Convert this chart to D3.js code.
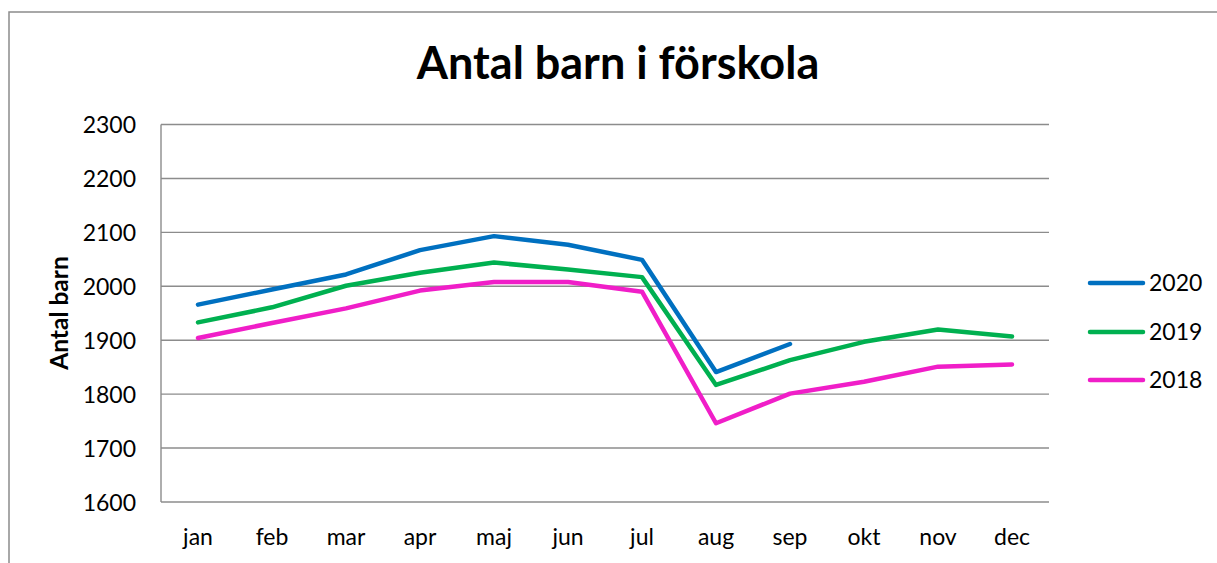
<!DOCTYPE html>
<html>
<head>
<meta charset="utf-8">
<script src="https://cdn.jsdelivr.net/npm/d3@7"></script>
<style>
html,body{margin:0;padding:0;background:#fff;}
svg{display:block;}
</style>
</head>
<body>
<svg id="chart" width="1217" height="563"></svg>
<script>
const months = ["jan","feb","mar","apr","maj","jun","jul","aug","sep","okt","nov","dec"];
const yTicks = [1600,1700,1800,1900,2000,2100,2200,2300];
const values2020 = [1966,1994,2022,2067,2093,2077,2049,1841,1893];
const values2019 = [1933,1961,2001,2025,2044,2031,2017,1817,1863,1897,1920,1907];
const values2018 = [1904,1932,1959,1992,2008,2008,1990,1746,1801,1823,1851,1855];
const seriesNames = ["2020","2019","2018"];
const seriesColors = ["#0070C0","#00B050","#F01EC8"];

const series = [
  {name: seriesNames[0], values: values2020, color: seriesColors[0]},
  {name: seriesNames[1], values: values2019, color: seriesColors[1]},
  {name: seriesNames[2], values: values2018, color: seriesColors[2]}
];

const svg = d3.select("#chart");
const font = "Lato, 'Open Sans', sans-serif";
const plot = {left:161, right:1049, top:124.5, bottom:502};

// outer border
svg.append("rect").attr("x",9).attr("y",12).attr("width",1230).attr("height",600)
  .attr("fill","#fff").attr("stroke","#8c8c8c").attr("stroke-width",1.5);

const x = d3.scaleBand().domain(months).range([plot.left, plot.right]).padding(0);
const y = d3.scaleLinear().domain([1600,2300]).range([plot.bottom, plot.top]);

// gridlines
svg.append("g").selectAll("line").data(yTicks).join("line")
  .attr("x1",plot.left).attr("x2",plot.right)
  .attr("y1",d=>y(d)).attr("y2",d=>y(d))
  .attr("stroke","#8c8c8c").attr("stroke-width",1.4);

// y axis line
svg.append("line").attr("x1",plot.left).attr("x2",plot.left)
  .attr("y1",plot.top).attr("y2",plot.bottom)
  .attr("stroke","#8c8c8c").attr("stroke-width",1.4);

// y tick labels
const yAxis = d3.axisLeft(y).tickValues(yTicks).tickSize(0).tickPadding(0).tickFormat(d3.format("d"));
const gy = svg.append("g").attr("transform",`translate(136,0)`).call(yAxis);
gy.select(".domain").remove();
gy.selectAll("text").attr("font-family",font).attr("font-size",23).attr("fill","#000").attr("dy","0.36em");

// x tick labels
const xAxis = d3.axisBottom(x).tickSize(0).tickPadding(0);
const gx = svg.append("g").attr("transform",`translate(0,${plot.bottom})`).call(xAxis);
gx.select(".domain").remove();
gx.selectAll("text").attr("font-family",font).attr("font-size",23).attr("fill","#000").attr("y",43).attr("dy",0);

// lines
const line = d3.line().x((d,i)=>x(months[i]) + x.bandwidth()/2).y(d=>y(d));
svg.append("g").selectAll("path").data(series).join("path")
  .attr("d",d=>line(d.values))
  .attr("fill","none").attr("stroke",d=>d.color).attr("stroke-width",4.5)
  .attr("stroke-linejoin","round").attr("stroke-linecap","round");

// title
svg.append("text").attr("x",618).attr("y",79).attr("text-anchor","middle")
  .attr("font-family",font).attr("font-weight","bold").attr("font-size",45)
  .attr("fill","#000").text("Antal barn i förskola");

// y axis title
svg.append("text").attr("transform","translate(68,313) rotate(-90)")
  .attr("text-anchor","middle").attr("font-family",font).attr("font-weight","bold")
  .attr("font-size",24.5).attr("fill","#000").text("Antal barn");

// legend
const legendY = [283,332,380];
const lg = svg.append("g").selectAll("g").data(series).join("g")
  .attr("transform",(d,i)=>`translate(0,${legendY[i]})`);
lg.append("line").attr("x1",1090).attr("x2",1143).attr("y1",0).attr("y2",0)
  .attr("stroke",d=>d.color).attr("stroke-width",4.5).attr("stroke-linecap","round");
lg.append("text").attr("x",1149).attr("y",0).attr("dy","0.36em")
  .attr("font-family",font).attr("font-size",23).attr("fill","#000").text(d=>d.name);
</script>
</body>
</html>
